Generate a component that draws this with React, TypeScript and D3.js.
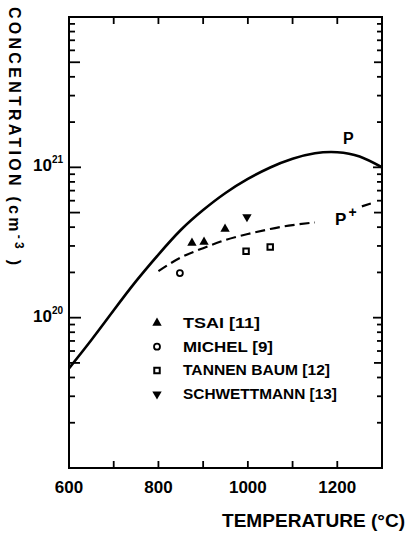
import React, { useEffect, useRef } from 'react';
import * as d3 from 'd3';

const width = 408;
const height = 535;

// curve P (solid)
const pTemps = [600, 650, 700, 750, 800, 850, 900, 950, 1000, 1050, 1100, 1150, 1200, 1250, 1300];
const pConc = [4.6e19, 7.1e19, 1.12e20, 1.75e20, 2.63e20, 3.83e20, 5.2e20, 6.75e20, 8.37e20, 9.98e20, 1.14e21, 1.24e21, 1.26e21, 1.18e21, 1.0e21];

// curve P+ (dashed), broken under its label
const pPlusTemps = [800, 850, 900, 950, 1000, 1050, 1100, 1150, 1200, 1255, 1275];
const pPlusConc = [2.04e20, 2.51e20, 2.9e20, 3.29e20, 3.6e20, 3.89e20, 4.13e20, 4.3e20, 4.84e20, 5.5e20, 5.75e20];

// measured points
const tsaiT = [875, 902, 949];
const tsaiC = [3.14e20, 3.19e20, 3.89e20];
const michelT = [848];
const michelC = [1.98e20];
const tannenT = [996, 1050];
const tannenC = [2.77e20, 2.95e20];
const schwT = [998];
const schwC = [4.68e20];

const legendNames = ['TSAI [11]', 'MICHEL  [9]', 'TANNEN BAUM [12]', 'SCHWETTMANN [13]'];
const legendWidths = [77, 90, 147, 154];

const xLabels = [600, 800, 1000, 1200];
const yLabels = [1e20, 1e21];

const font = '"Liberation Sans", Arial, sans-serif';

function App() {
  const ref = useRef<SVGSVGElement>(null);

  useEffect(() => {
    const svg = d3.select(ref.current);
    svg.selectAll('*').remove();

    const left = 69, right = 382, top = 17, bottom = 468;
    const x = d3.scaleLinear().domain([600, 1300]).range([left, right]);
    const y = d3.scaleLog().domain([1e19, 1e22]).range([bottom, top]);

    svg.append('defs').append('clipPath').attr('id', 'frame')
      .append('rect').attr('x', left).attr('y', top).attr('width', right - left).attr('height', bottom - top);

    // frame
    svg.append('rect')
      .attr('x', left).attr('y', top).attr('width', right - left).attr('height', bottom - top)
      .attr('fill', 'none').attr('stroke', '#000').attr('stroke-width', 2);

    // x ticks (bottom and top, pointing in)
    const xt = x.ticks(7).filter(t => t > 600 && t < 1300);
    svg.selectAll('.xb').data(xt).enter().append('line')
      .attr('x1', d => x(d)).attr('x2', d => x(d))
      .attr('y1', bottom).attr('y2', bottom - 7)
      .attr('stroke', '#000').attr('stroke-width', 1.8);
    svg.selectAll('.xt').data(xt).enter().append('line')
      .attr('x1', d => x(d)).attr('x2', d => x(d))
      .attr('y1', top).attr('y2', top + 7)
      .attr('stroke', '#000').attr('stroke-width', 1.8);

    // y ticks (left and right)
    const yt = y.ticks().filter(t => t > 1e19 && t < 1e22);
    const mant = (t: number) => Math.round(t / Math.pow(10, Math.floor(Math.log10(t) + 1e-9)));
    svg.selectAll('.yl').data(yt).enter().append('line')
      .attr('x1', left).attr('x2', d => left + (mant(d) === 1 ? 12 : mant(d) === 5 ? 11 : 6))
      .attr('y1', d => y(d)).attr('y2', d => y(d))
      .attr('stroke', '#000').attr('stroke-width', 1.8);
    svg.selectAll('.yr').data(yt).enter().append('line')
      .attr('x1', right).attr('x2', d => right - (mant(d) === 1 ? 9 : mant(d) === 5 ? 8 : 5))
      .attr('y1', d => y(d)).attr('y2', d => y(d))
      .attr('stroke', '#000').attr('stroke-width', 1.8);

    // x tick labels
    svg.selectAll('.xlab').data(xLabels).enter().append('text')
      .attr('x', d => x(d)).attr('y', 493)
      .attr('text-anchor', 'middle')
      .style('font-family', font).style('font-size', '17px').style('font-weight', 'bold')
      .text(d => d);

    // y tick labels 10^n
    const yl = svg.selectAll('.ylab').data(yLabels).enter().append('text')
      .attr('x', 63).attr('y', d => y(d) + 4)
      .attr('text-anchor', 'end')
      .style('font-family', font).style('font-size', '17px').style('font-weight', 'bold');
    yl.append('tspan').text('10');
    yl.append('tspan').attr('dy', -8).style('font-size', '10px').text(d => String(Math.round(Math.log10(d))));

    // axis titles
    svg.append('text')
      .attr('x', 222).attr('y', 527)
      .attr('textLength', 183).attr('lengthAdjust', 'spacingAndGlyphs')
      .style('font-family', font).style('font-size', '19px').style('font-weight', 'bold')
      .text('TEMPERATURE (°C)');

    const yt2 = svg.append('text')
      .attr('transform', 'translate(9,7) rotate(90)')
      .attr('textLength', 258).attr('lengthAdjust', 'spacing')
      .style('font-family', font).style('font-size', '16px').style('font-weight', 'bold');
    yt2.append('tspan').text('CONCENTRATION (cm');
    yt2.append('tspan').attr('dy', -6).style('font-size', '12px').text('-3');
    yt2.append('tspan').attr('dy', 6).text(' )');

    const plot = svg.append('g').attr('clip-path', 'url(#frame)');

    const line = d3.line<[number, number]>()
      .x(d => x(d[0])).y(d => y(d[1]))
      .curve(d3.curveNatural);

    const pData = pTemps.map((t, i) => [t, pConc[i]] as [number, number]);
    plot.append('path').attr('d', line(pData))
      .attr('fill', 'none').attr('stroke', '#000').attr('stroke-width', 2.6);

    const ppData = pPlusTemps.map((t, i) => [t, pPlusConc[i]] as [number, number]);
    plot.append('path').attr('d', line.defined(d => d[0] <= 1150 || d[0] >= 1255)(ppData))
      .attr('fill', 'none').attr('stroke', '#000').attr('stroke-width', 2.2)
      .attr('stroke-dasharray', '10,5');

    // curve labels
    svg.append('text').attr('x', x(1213)).attr('y', y(1.43e21))
      .style('font-family', font).style('font-size', '16px').style('font-weight', 'bold')
      .text('P');
    const pp = svg.append('text').attr('x', x(1195)).attr('y', y(4.13e20))
      .style('font-family', font).style('font-size', '17px').style('font-weight', 'bold');
    pp.append('tspan').text('P');
    pp.append('tspan').attr('dx', 2).attr('dy', -8).style('font-size', '14px').text('+');

    // markers
    const tri = d3.symbol().type(d3.symbolTriangle).size(38)();
    const circ = d3.symbol().type(d3.symbolCircle).size(28)();
    const sq = d3.symbol().type(d3.symbolSquare).size(30)();

    const drawTri = (g: any, px: number, py: number, down = false) =>
      g.append('path').attr('d', tri)
        .attr('transform', `translate(${px},${py})${down ? ' rotate(180)' : ''}`)
        .attr('fill', '#000');
    const drawCirc = (g: any, px: number, py: number) =>
      g.append('path').attr('d', circ).attr('transform', `translate(${px},${py})`)
        .attr('fill', '#fff').attr('stroke', '#000').attr('stroke-width', 1.8);
    const drawSq = (g: any, px: number, py: number) =>
      g.append('path').attr('d', sq).attr('transform', `translate(${px},${py})`)
        .attr('fill', '#fff').attr('stroke', '#000').attr('stroke-width', 2);

    tsaiT.forEach((t, i) => drawTri(svg, x(t), y(tsaiC[i])));
    michelT.forEach((t, i) => drawCirc(svg, x(t), y(michelC[i])));
    tannenT.forEach((t, i) => drawSq(svg, x(t), y(tannenC[i])));
    schwT.forEach((t, i) => drawTri(svg, x(t), y(schwC[i]), true));

    // legend
    const lx = 157, ly = 323, step = 23.7;
    const lg = svg.append('g');
    drawTri(lg, lx, ly);
    drawCirc(lg, lx, ly + step);
    drawSq(lg, lx, ly + step * 2);
    drawTri(lg, lx, ly + step * 3, true);
    lg.selectAll('.lt').data(legendNames).enter().append('text')
      .attr('x', 183).attr('y', (d, i) => ly + i * step + 5)
      .attr('textLength', (d, i) => legendWidths[i]).attr('lengthAdjust', 'spacingAndGlyphs')
      .style('font-family', font).style('font-size', '14px').style('font-weight', 'bold')
      .text(d => d);
  }, []);

  return (
    <svg ref={ref} width={width} height={height}
      style={{ position: 'absolute', left: 0, top: 0, background: '#fff' }} />
  );
}

export default App;
